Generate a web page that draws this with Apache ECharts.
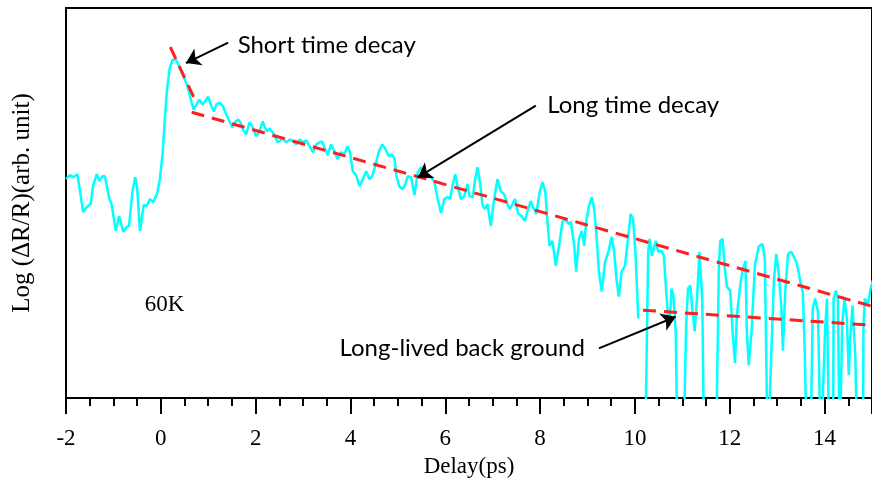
<!DOCTYPE html>
<html><head><meta charset="utf-8">
<script src="https://cdn.jsdelivr.net/npm/echarts@6/dist/echarts.min.js"></script>
<style>html,body{margin:0;padding:0;background:#fff}#c{width:872px;height:483px}</style>
</head><body><div id="c"></div>
<script>
// Delay (ps)
const delay = [-2.00,-1.92,-1.85,-1.76,-1.71,-1.64,-1.56,-1.48,-1.43,-1.35,-1.30,-1.23,-1.18,-1.09,-1.04,-0.95,-0.88,-0.84,-0.79,-0.72,-0.67,-0.60,-0.54,-0.50,-0.44,-0.36,-0.30,-0.23,-0.16,-0.08,-0.02,0.04,0.08,0.13,0.19,0.25,0.32,0.39,0.48,0.57,0.65,0.69,0.75,0.81,0.88,0.93,1.00,1.07,1.12,1.17,1.24,1.31,1.38,1.45,1.51,1.56,1.63,1.68,1.73,1.80,1.87,1.93,2.01,2.08,2.15,2.23,2.29,2.36,2.47,2.57,2.65,2.72,2.79,2.86,2.93,3.00,3.07,3.14,3.21,3.28,3.35,3.40,3.45,3.52,3.59,3.66,3.73,3.80,3.87,3.94,3.99,4.05,4.12,4.19,4.26,4.33,4.40,4.46,4.53,4.60,4.67,4.74,4.81,4.88,4.93,4.97,5.03,5.09,5.14,5.21,5.28,5.35,5.42,5.49,5.56,5.63,5.70,5.77,5.84,5.91,5.98,6.05,6.10,6.15,6.21,6.26,6.33,6.40,6.47,6.51,6.58,6.63,6.68,6.73,6.79,6.84,6.89,6.96,7.03,7.10,7.17,7.24,7.31,7.36,7.42,7.47,7.54,7.61,7.68,7.73,7.80,7.85,7.92,7.99,8.05,8.11,8.15,8.20,8.26,8.33,8.40,8.47,8.53,8.60,8.65,8.72,8.76,8.82,8.88,8.93,8.97,9.03,9.09,9.14,9.19,9.24,9.30,9.37,9.44,9.51,9.56,9.61,9.66,9.72,9.79,9.86,9.91,9.96,10.01,10.07,10.12,10.22,10.28,10.31,10.36,10.44,10.49,10.56,10.61,10.66,10.70,10.73,10.77,10.81,10.86,10.90,11.02,11.08,11.12,11.17,11.21,11.26,11.31,11.36,11.42,11.46,11.71,11.77,11.80,11.85,11.89,11.94,12.01,12.06,12.11,12.15,12.22,12.27,12.33,12.36,12.40,12.46,12.53,12.61,12.69,12.74,12.80,12.88,12.93,12.98,13.03,13.09,13.12,13.17,13.23,13.30,13.35,13.42,13.49,13.54,13.58,13.63,13.70,13.75,13.80,13.86,13.92,14.01,14.05,14.10,14.18,14.19,14.24,14.28,14.32,14.37,14.42,14.47,14.51,14.54,14.59,14.65,14.69,14.81,14.82,14.85,14.91,14.97,15.03];
// Log(dR/R), arbitrary units (null = undefined log)
const signal = [220,224,222,225,210,187,192,195,213,225,218,223,223,201,195,168,183,183,167,172,173,207,222,212,168,194,193,200,197,205,220,247,277,310,332,340,340,333,323,312,297,290,295,300,295,298,303,293,288,295,297,293,285,278,272,277,280,277,270,265,277,273,263,268,278,268,271,267,257,261,257,260,258,255,260,257,259,253,247,255,257,258,252,244,255,248,240,247,245,253,247,228,224,213,220,228,220,223,235,248,255,250,243,245,240,223,213,210,213,223,222,204,227,232,225,223,222,217,200,186,200,202,200,213,225,213,200,203,215,203,202,220,232,217,193,190,195,173,200,220,208,205,195,190,195,200,185,183,178,187,198,192,185,207,217,207,180,153,158,133,153,177,180,175,177,153,127,160,168,153,177,193,202,190,163,127,107,137,147,162,148,120,102,127,133,163,185,180,147,80,null,-40,147,160,143,158,147,148,143,107,80,73,110,103,67,-60,-60,73,110,113,90,67,100,147,100,-60,-60,133,158,160,133,112,108,67,35,83,113,128,138,67,33,67,133,152,155,140,-60,50,117,145,127,90,48,107,145,147,142,135,117,107,50,-60,-60,90,100,87,-60,68,100,-60,-60,100,108,100,-60,73,100,80,23,60,93,40,-60,-60,73,100,93,110,120];
const xTicks = {min:-2, max:15, step:2};
const yRange = {min:0, max:392};
const shortFit = {x:[0.20,0.75], y:[352.7,296.7]};
const longFit  = {x:[0.65,15.0], y:[287.3,92.3]};
const bgFit    = {x:[10.17,15.0], y:[88.3,73.2]};
const labels = [
  {text:'Short time decay', x:1.62, y:355},
  {text:'Long time decay', x:8.15, y:294},
  {text:'Long-lived back ground', x:3.77, y:50}
];
const tempLabel = {text:'60K', x:-0.34, y:94};
const arrows = [
  {from:[1.42,357.3], to:[0.53,336.7]},
  {from:[7.91,294.0], to:[5.42,221.7]},
  {from:[9.24,50.0], to:[10.86,81.7]}
];

const chart = echarts.init(document.getElementById('c'), null, {renderer:'canvas'});
const pairs = (xs, ys) => xs.map((x,i)=>[x, ys[i]===null ? '-' : ys[i]]);
const dashStyle = {color:'#ff1f1f', width:3, type:[13,8]};
const serif = 'Liberation Serif';
const sans = 'Lato';

chart.setOption({
  animation:false,
  backgroundColor:'#fff',
  grid:{left:66, top:8, width:807.5, height:392, show:true, borderColor:'#000', borderWidth:2, backgroundColor:'transparent'},
  xAxis:{type:'value', min:xTicks.min, max:xTicks.max, interval:xTicks.step,
    name:'Delay(ps)', nameLocation:'middle', nameGap:55,
    nameTextStyle:{fontFamily:serif, fontSize:23, color:'#000'},
    axisLine:{show:true, onZero:false, lineStyle:{color:'#000', width:2}},
    axisTick:{show:true, inside:false, length:16, lineStyle:{color:'#000', width:2}},
    minorTick:{show:true, splitNumber:4, length:8, lineStyle:{color:'#000', width:2}},
    axisLabel:{fontFamily:serif, fontSize:23, color:'#000', margin:29, showMaxLabel:false},
    splitLine:{show:false}
  },
  yAxis:{type:'value', min:yRange.min, max:yRange.max,
    name:'Log (\u0394R/R)(arb. unit)', nameLocation:'middle', nameGap:31,
    nameTextStyle:{fontFamily:serif, fontSize:25, color:'#000'},
    axisLine:{show:true, onZero:false, lineStyle:{color:'#000', width:2}},
    axisTick:{show:false}, axisLabel:{show:false}, splitLine:{show:false}
  },
  series:[
    {type:'line', data:pairs(delay, signal), symbol:'none', connectNulls:false,
     lineStyle:{color:'#00ffff', width:2.5}, z:2},
    {type:'line', data:pairs(shortFit.x, shortFit.y), symbol:'none', lineStyle:dashStyle, z:3},
    {type:'line', data:pairs(longFit.x, longFit.y), symbol:'none', lineStyle:dashStyle, z:3},
    {type:'line', data:pairs(bgFit.x, bgFit.y), symbol:'none', lineStyle:dashStyle, z:3,
     markLine:{silent:true, animation:false, symbol:['none','arrow'], symbolSize:[6,14],
       lineStyle:{color:'#000', width:2, type:'solid'}, label:{show:false},
       data:arrows.map(a=>[{coord:a.from, symbol:'none'},{coord:a.to, symbol:'arrow', symbolSize:14}])},
     markPoint:{silent:true, symbol:'circle', symbolSize:0,
       data:labels.map(l=>({coord:[l.x,l.y], value:l.text,
         label:{show:true, position:'right', distance:0, formatter:l.text, fontFamily:sans, fontSize:24, color:'#000'}}))
         .concat([{coord:[tempLabel.x,tempLabel.y], value:tempLabel.text,
         label:{show:true, position:'right', distance:0, formatter:tempLabel.text, fontFamily:serif, fontSize:23, color:'#000'}}])}
    }
  ]
});
</script></body></html>
